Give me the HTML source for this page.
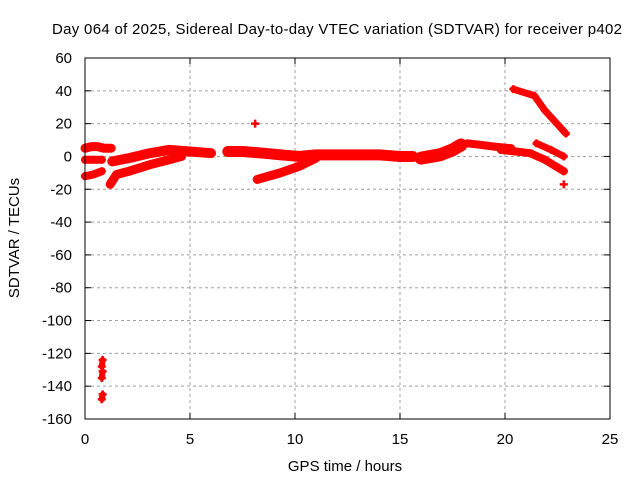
<!DOCTYPE html>
<html><head><meta charset="utf-8"><style>
body{margin:0;background:#fff;}
svg{display:block;font-family:"Liberation Sans",sans-serif;}
</style></head><body>
<svg id="chart" width="640" height="480" viewBox="0 0 640 480">
<rect width="640" height="480" fill="#fff"/>
<text x="337" y="34" font-size="15" text-anchor="middle" fill="#000" textLength="570">Day 064 of 2025, Sidereal Day-to-day VTEC variation (SDTVAR) for receiver p402</text>
<g id="grid"></g>
<g id="ticks"></g>
<g id="series"></g>
<rect x="85" y="58" width="525" height="361" fill="none" stroke="#000" stroke-width="1"/>
<text x="345" y="471" font-size="15" text-anchor="middle">GPS time / hours</text>
<text transform="translate(19,238) rotate(-90)" font-size="15" text-anchor="middle">SDTVAR / TECUs</text>
</svg>
<script>
const xTicks=[0,5,10,15,20,25];
const yTicks=[60,40,20,0,-20,-40,-60,-80,-100,-120,-140,-160];
// tracks: hours and SDTVAR values
const trackAh=[0,0.3,0.6,0.9,1.25]; const trackAv=[5,6,6,5,5];
const trackBh=[0,0.4,0.8]; const trackBv=[-2,-2,-2];
const trackCh=[0,0.4,0.8]; const trackCv=[-12,-11,-9];
const trackDh=[1.2,1.5,2.1,3.1,4.0,4.6]; const trackDv=[-17,-11,-9,-5,-2,0];
const trackEh=[1.3,2.1,3.1,4.0,5.0,6.0]; const trackEv=[-3,-1,2,4,3,2];
const trackFh=[6.8,7.5,8.5,9.3,10.2,11.0,12.0,13.0,14.0,15.0,15.6]; const trackFv=[3,3,2,1,0,1,1,1,1,0,0];
const trackGh=[8.2,9.3,10.2,11.0]; const trackGv=[-14,-10,-6,-1];
const trackHh=[8.1]; const trackHv=[20];
const trackJh=[16.0,16.9,17.5,17.9]; const trackJv=[-1,1,4,7];
const trackKh=[18.2,18.9,19.5,20.3]; const trackKv=[8,7,6,5];
const trackLh=[19.8,20.5,21.2,21.9,22.8]; const trackLv=[4,3,2,-2,-9];
const trackMh=[20.4,21.4,21.9,22.9]; const trackMv=[41,37,28,14];
const trackNh=[21.5,22.2,22.8]; const trackNv=[8,4,0];
const trackOh=[22.8]; const trackOv=[-17];
const outlier1H=[0.84,0.80]; const outlier1V=[-124,-128];
const outlier2H=[0.84,0.80]; const outlier2V=[-131,-135];
const outlier3H=[0.84,0.80]; const outlier3V=[-145,-148];

const X0=85,X1=610,Y0=58,Y1=419,XMIN=0,XMAX=25,YMIN=-160,YMAX=60;
const sx=h=>X0+(h-XMIN)/(XMAX-XMIN)*(X1-X0);
const sy=v=>Y1-(v-YMIN)/(YMAX-YMIN)*(Y1-Y0);
const NS='http://www.w3.org/2000/svg';
const mk=(t,a,p)=>{const e=document.createElementNS(NS,t);for(const k in a)e.setAttribute(k,a[k]);p.appendChild(e);return e;};
const grid=document.getElementById('grid'),ticks=document.getElementById('ticks'),ser=document.getElementById('series');
xTicks.forEach(t=>{
  const x=sx(t);
  if(t>XMIN&&t<XMAX){const g=mk('line',{x1:x,x2:x,y1:Y0,y2:Y1,stroke:'#a0a0a0','stroke-dasharray':'3,3'},grid);
  
  }
  const l=mk('text',{x:x,y:Y1+25,'font-size':15,'text-anchor':'middle'},ticks);l.textContent=t;
  
  
  mk('line',{x1:x,x2:x,y1:Y1,y2:Y1-6,stroke:'#000'},ticks);
  mk('line',{x1:x,x2:x,y1:Y0,y2:Y0+6,stroke:'#000'},ticks);
});
yTicks.forEach(t=>{
  const y=sy(t);
  if(t>YMIN&&t<YMAX){const g=mk('line',{x1:X0,x2:X1,y1:y,y2:y,stroke:'#a0a0a0','stroke-dasharray':'3,3'},grid);
  
  }
  const l=mk('text',{x:X0-13,y:y+5,'font-size':15,'text-anchor':'end'},ticks);l.textContent=t;
  
  
  mk('line',{x1:X0,x2:X0+6,y1:y,y2:y,stroke:'#000'},ticks);
  mk('line',{x1:X1,x2:X1-6,y1:y,y2:y,stroke:'#000'},ticks);
});
function track(hs,vs,w,name){
  const pts=hs.map((h,i)=>sx(h)+','+sy(vs[i])).join(' ');
  if(hs.length>1){const p=mk('polyline',{points:pts,fill:'none',stroke:'#f00','stroke-width':w,'stroke-linejoin':'round','stroke-linecap':'round'},ser);
  
  }
  hs.forEach((h,i)=>{const x=sx(h),y=sy(vs[i]);
    const m=mk('path',{d:`M${x-4},${y}h8M${x},${y-4}v8`,stroke:'#f00','stroke-width':2.5},ser);
    
    });
}
track(trackAh,trackAv,9,'track-a');
track(trackBh,trackBv,8,'track-b');
track(trackCh,trackCv,8,'track-c');
track(trackDh,trackDv,9,'track-d');
track(trackEh,trackEv,10,'track-e');
track(trackFh,trackFv,11,'track-f');
track(trackGh,trackGv,9,'track-g');
track(trackHh,trackHv,4,'track-h');
track(trackJh,trackJv,13,'track-j');
track(trackKh,trackKv,8,'track-k');
track(trackLh,trackLv,8,'track-l');
track(trackMh,trackMv,7,'track-m');
track(trackNh,trackNv,7,'track-n');
track(trackOh,trackOv,5,'track-o');
track(outlier1H,outlier1V,6,'outlier-1');
track(outlier2H,outlier2V,6,'outlier-2');
track(outlier3H,outlier3V,6,'outlier-3');
</script>
</body></html>
